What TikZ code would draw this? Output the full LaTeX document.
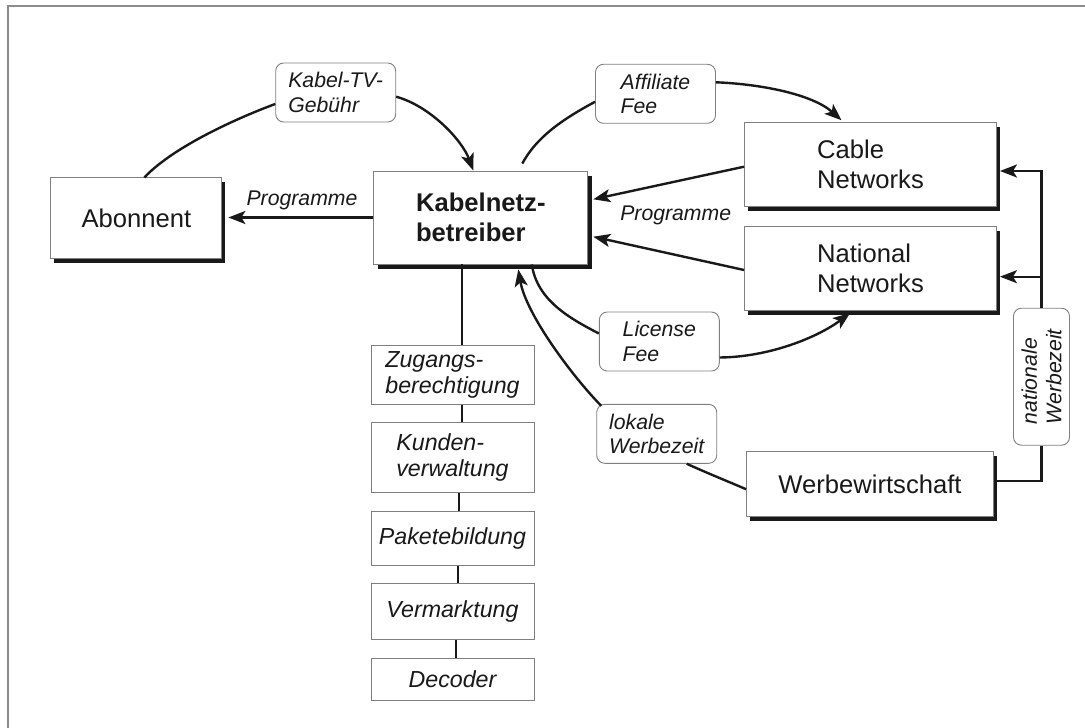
\documentclass[tikz,border=0pt]{standalone}
\usepackage{fontspec}
\setmainfont{Liberation Sans}
\usetikzlibrary{arrows.meta,calc,shadows}

\begin{document}
\begin{tikzpicture}[x=1bp,y=-1bp,
  conn/.style={line width=2.4bp, draw=black!90},
  arr/.style={conn, -{Stealth[length=17bp,width=13bp,inset=4bp]}},
  boxbase/.style={draw=black!50, line width=0.9bp, fill=white, inner sep=0pt,
    text=black!90, font=\fontsize{25.7}{30}\selectfont, align=left},
  mainbox/.style={boxbase,
    drop shadow={shadow xshift=3bp, shadow yshift=-4bp, fill=black!90, opacity=1}},
  kabbox/.style={boxbase, font=\fontsize{25.7}{30}\selectfont\bfseries,
    drop shadow={shadow xshift=4bp, shadow yshift=-5bp, fill=black!90, opacity=1}},
  taskbox/.style={draw=black!50, line width=0.9bp, fill=white, inner sep=0pt,
    text=black!90, minimum width=163bp, font=\fontsize{23.3}{26}\selectfont\itshape, align=left},
  tag/.style={draw=black!50, line width=0.9bp, fill=white, rounded corners=8bp,
    inner sep=0pt, minimum width=120bp, minimum height=59bp, text=black!90,
    font=\fontsize{21.3}{24.5}\selectfont\itshape, align=left},
  lbl/.style={font=\fontsize{21.3}{24.5}\selectfont\itshape, text=black!90, inner sep=0pt}
]
\useasboundingbox (0,0) rectangle (1085,728);
% frame edges
\draw[black!45, line width=1.5bp] (8,728) -- (8,6) -- (1085,6);

% main actors
\node[mainbox, minimum width=171bp, minimum height=81bp] (abon) at (136.4,218.4) {Abonnent};
\node[kabbox, minimum width=214bp, minimum height=93bp] (kab) at (480.8,217.5) {Kabelnetz-\\betreiber};
\node[mainbox, minimum width=252bp, minimum height=84bp] (cable) at (870.5,164.7) {Cable\\Networks};
\node[mainbox, minimum width=252bp, minimum height=84bp] (natl) at (870.5,268.7) {National\\Networks};
\node[mainbox, minimum width=247bp, minimum height=65bp] (werb) at (870,484.2) {Werbewirtschaft};

% tasks of the cable operator
\node[taskbox, minimum height=59bp] (zug) at (452.5,374.7) {Zugangs-\\berechtigung};
\node[taskbox, minimum height=70bp] (kun) at (452.5,457.5) {Kunden-\\verwaltung};
\node[taskbox, minimum height=54bp] (pak) at (452.5,538.2) {Paketebildung};
\node[taskbox, minimum height=56bp] (ver) at (452.5,611.3) {Vermarktung};
\node[taskbox, minimum height=42bp] (dec) at (452.5,679.2) {Decoder};

% payment flows
\node[tag] (ktv) at (335.7,92.5) {Kabel-TV-\\Gebühr};
\node[tag] (aff) at (655.5,93.8) {Affiliate\\Fee};
\node[tag] (lic) at (659.3,341.5) {License\\Fee};
\node[tag] (lok) at (656.7,433.8) {lokale\\Werbezeit};
\node[tag, minimum width=137bp, minimum height=56bp, rotate=90] (nwz) at (1041.5,376.7) {nationale\\Werbezeit};

% programme flows
\node[lbl] (p1) at (302,200) {Programme};
\node[lbl] (p2) at (675.7,215) {Programme};

\draw[arr] (kab.west) -- ($(kab.west -| abon.east)+(6,0)$);
\draw[arr] ($(cable.west)+(0,2)$) -- ($(kab.east)+(5,-18.2)$);
\draw[arr] ($(natl.west)+(0,1.3)$) -- ($(kab.east)+(5,19.2)$);

% fees
\draw[conn] ($(abon.north)+(8,0)$) .. controls (174,146) and (240,117) .. ($(ktv.west)+(0,11.5)$);
\draw[arr] ($(ktv.east)+(0,4.2)$) .. controls (430,106) and (462,140) .. ($(kab.north)+(-7.5,0)$);
\draw[conn] ($(kab.north)+(41.5,-7)$) .. controls (536,138) and (561,120) .. ($(aff.west)+(0,8)$);
\draw[arr] ($(aff.east)+(0,-11.5)$) .. controls (760,84) and (812,94) .. ($(cable.north)+(-29,-2)$);
\draw[conn] ($(kab.south)+(51,0)$) .. controls (537,300) and (569,318) .. ($(lic.west)+(0,-8)$);
\draw[arr] ($(lic.east)+(0,16)$) .. controls (770,357) and (818,337) .. ($(natl.south)+(-20.5,2)$);

% advertising
\draw[arr] ($(lok.north west)+(5,2)$) .. controls (572,376) and (526,314) .. ($(kab.south)+(37.5,5)$);
\draw[conn] ($(lok.south)+(30,0)$) .. controls (707,473) and (727,481) .. ($(werb.west)+(0,5)$);
\draw[conn] ($(werb.east)+(3,-3)$) -| (nwz.west);
\draw[arr] (nwz.east) |- ($(cable.east)+(3,6.3)$);
\coordinate (natlin) at ($(natl.east)+(3,8)$);
\draw[arr] (nwz.east |- natlin) -- (natlin);

% chain of tasks
\coordinate (zt) at ($(zug.north)+(9.5,0)$);
\draw[conn] (zt) -- (zt |- kab.south);
\draw[conn] ($(zug.south)+(9.2,0)$) -- ($(kun.north)+(9.2,0)$);
\draw[conn] ($(kun.south)+(6.2,0)$) -- ($(pak.north)+(6.2,0)$);
\draw[conn] ($(pak.south)+(5.2,0)$) -- ($(ver.north)+(5.2,0)$);
\draw[conn] ($(ver.south)+(3.2,0)$) -- ($(dec.north)+(3.2,0)$);
\end{tikzpicture}
\end{document}
